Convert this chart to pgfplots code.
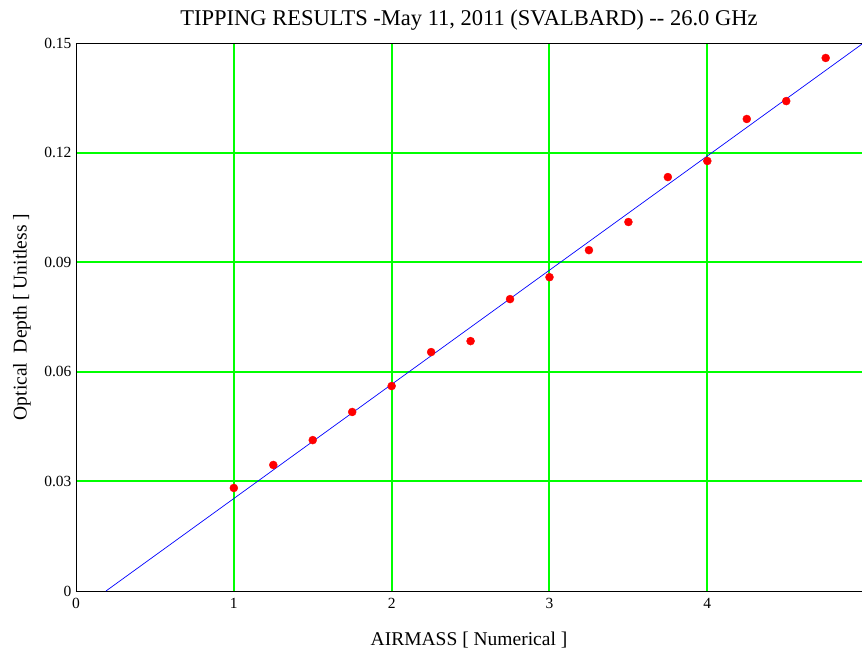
\documentclass[border=0pt]{standalone}
\usepackage{pgfplots}
\pgfplotsset{compat=1.18}
\usepackage{fontspec}
\setmainfont{Liberation Serif}
\definecolor{gridgreen}{RGB}{0,255,0}
\begin{document}
\begin{tikzpicture}
\path[use as bounding box] (-76pt,-61pt) rectangle (786pt,591pt);
\begin{axis}[
  at={(0pt,0pt)}, anchor=south west,
  scale only axis,
  width=786pt, height=548pt,
  xmin=0, xmax=4.98, ymin=0, ymax=0.15,
  xtick={1,2,3,4},
  xticklabels={1,2,3,4},
  ytick={0.03,0.06,0.09,0.12},
  yticklabels={0.03,0.06,0.09,0.12},
  extra x ticks={0},
  extra x tick labels={0},
  extra y ticks={0,0.15},
  extra y tick labels={0,0.15},
  extra tick style={grid=none},
  major tick length=0pt,
  tick label style={font=\fontsize{15.5}{17}\selectfont},
  xticklabel style={yshift=-4pt},
  yticklabel style={xshift=-1pt},
  /pgf/number format/assume math mode=true,
  xmajorgrids, ymajorgrids,
  grid style={gridgreen, line width=2pt},
  major grid style={gridgreen, line width=2pt},
  axis line style={black, line width=0.8pt},
  axis x line*=bottom, axis y line*=left,
  xlabel={AIRMASS [ Numerical ]},
  ylabel={Optical\ \ Depth [ Unitless ]},
  label style={font=\fontsize{19.5}{22}\selectfont},
  xlabel style={at={(axis description cs:0.5,0)}, anchor=center, yshift=-49pt},
  ylabel style={at={(axis description cs:0,0.5)}, anchor=center, yshift=54pt},
  title={TIPPING RESULTS -May 11, 2011 (SVALBARD) -{}- 26.0 GHz},
  title style={font=\fontsize{22.5}{25}\selectfont, at={(axis description cs:0.5,1)}, anchor=center, yshift=17pt},
  clip=false,
]
\draw[black, line width=0.8pt] (axis cs:0,0.15) -- (axis cs:4.98,0.15);
\addplot[blue, line width=0.7pt] coordinates {(0.19,0) (4.98,0.1497)};
\addplot[only marks, mark=*, mark size=4pt, red, mark options={fill=red, draw=red}] coordinates {
(1.00,0.0282)
(1.25,0.0345)
(1.50,0.0413)
(1.75,0.0490)
(2.00,0.0561)
(2.25,0.0654)
(2.50,0.0684)
(2.75,0.0799)
(3.00,0.0859)
(3.25,0.0933)
(3.50,0.1010)
(3.75,0.1133)
(4.00,0.1177)
(4.25,0.1292)
(4.50,0.1341)
(4.75,0.1459)
};
\end{axis}
\end{tikzpicture}
\end{document}
